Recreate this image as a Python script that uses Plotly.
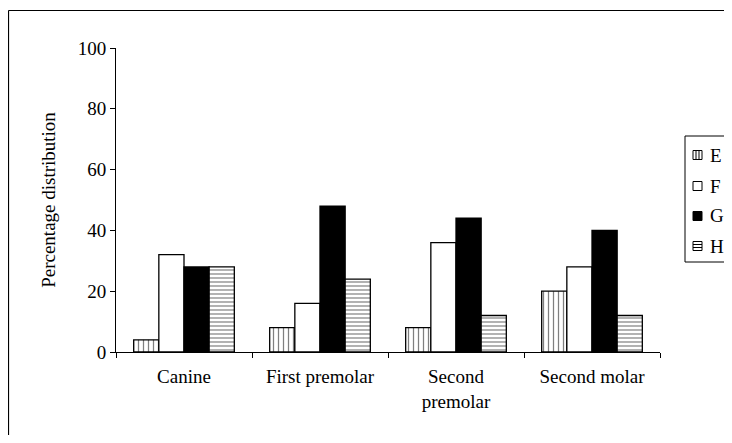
import plotly.graph_objects as go

categories = ["Canine", "First premolar", "Second<br>premolar", "Second molar"]
series_names = ["E", "F", "G", "H"]
values_E = [4, 8, 8, 20]
values_F = [32, 16, 36, 28]
values_G = [28, 48, 44, 40]
values_H = [28, 24, 12, 12]
y_ticks = [0, 20, 40, 60, 80, 100]

FONT = "Liberation Serif, Times New Roman, serif"
FS = 19

styles = {
    "E": dict(color="white", pattern=dict(shape="|", size=5, solidity=0.25, fgcolor="black", bgcolor="white", fillmode="overlay")),
    "F": dict(color="white"),
    "G": dict(color="black"),
    "H": dict(color="white", pattern=dict(shape="-", size=4, solidity=0.3, fgcolor="black", bgcolor="white", fillmode="overlay")),
}

fig = go.Figure()
for name, vals in zip(series_names, [values_E, values_F, values_G, values_H]):
    st = styles[name]
    marker = dict(color=st["color"], line=dict(color="black", width=1.3))
    if "pattern" in st:
        marker["pattern"] = st["pattern"]
    fig.add_trace(go.Bar(x=categories, y=vals, name=name, marker=marker, showlegend=False))

# page body has an 8px margin, so the figure is sized to fit the window
W, H = 716, 427
L, R, T, B = 108, 64, 40, 83
pw, ph = W - L - R, H - T - B

def px_x(p):
    return (p - L) / pw

def px_y(p):
    return (H - B - p) / ph

def line(x0, y0, x1, y1, w=1.0):
    return dict(type="line", xref="paper", yref="paper",
                x0=px_x(x0), x1=px_x(x1), y0=px_y(y0), y1=px_y(y1),
                line=dict(color="black", width=w))

def rect(x0, y0, x1, y1, fill="white", w=1.0):
    return dict(type="rect", xref="paper", yref="paper",
                x0=px_x(x0), x1=px_x(x1), y0=px_y(y1), y1=px_y(y0),
                line=dict(color="black", width=w), fillcolor=fill)

shapes = [
    # page frame (top and left edges)
    line(0.5, 2.5, W, 2.5, 1.2),
    line(0.5, 2.5, 0.5, H, 1.2),
    # legend box (right edge runs off the page)
    rect(677, 128, W + 10, 254, "white", 1.0),
]

# legend swatches and labels
item_y = [147, 178, 208, 238]
sw_x0, sw = 685, 9
annotations = []
for name, yc in zip(series_names, item_y):
    y0, y1 = yc - sw / 2, yc + sw / 2
    fill = "black" if name == "G" else "white"
    shapes.append(rect(sw_x0, y0, sw_x0 + sw, y1, fill, 1.0))
    if name == "E":
        for k in (1, 2):
            xx = sw_x0 + k * sw / 3
            shapes.append(line(xx, y0, xx, y1, 1.0))
    if name == "H":
        for k in (1, 2):
            yy = y0 + k * sw / 3
            shapes.append(line(sw_x0, yy, sw_x0 + sw, yy, 1.0))
    annotations.append(dict(
        text=name, xref="paper", yref="paper",
        x=px_x(sw_x0 + sw + 6), y=px_y(yc), xanchor="left", yanchor="middle",
        showarrow=False, font=dict(family=FONT, size=FS, color="black"),
    ))

fig.update_layout(
    width=W, height=H,
    margin=dict(l=L, r=R, t=T, b=B),
    paper_bgcolor="white", plot_bgcolor="white",
    font=dict(family=FONT, size=FS, color="black"),
    barmode="group", bargap=0.26, bargroupgap=0,
    showlegend=False,
    xaxis=dict(
        showline=True, linecolor="black", linewidth=1,
        ticks="outside", ticklen=5, tickcolor="black", tickson="boundaries",
        showgrid=False, tickfont=dict(family=FONT, size=FS),
        ticklabelstandoff=7,
    ),
    yaxis=dict(
        range=[0, 100], tickvals=y_ticks,
        showline=True, linecolor="black", linewidth=1,
        ticks="outside", ticklen=5, tickcolor="black",
        showgrid=False, zeroline=False,
        tickfont=dict(family=FONT, size=FS),
        title=dict(text="Percentage distribution", font=dict(family=FONT, size=FS), standoff=17),
    ),
    shapes=shapes,
    annotations=annotations,
)

fig.write_html("out.html")
